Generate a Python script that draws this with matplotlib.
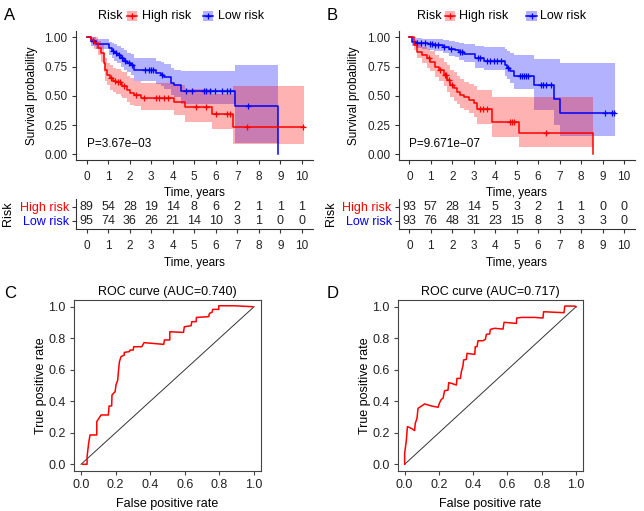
import numpy as np
import matplotlib
matplotlib.use("Agg")
import matplotlib.pyplot as plt
from matplotlib.patches import Rectangle
from matplotlib.lines import Line2D

plt.rcParams['font.family'] = ['Liberation Sans', 'DejaVu Sans']

# ---------------- data ----------------
years = list(range(0, 11))

# panel A  (step times, survival, lower/upper CI, last follow-up)
a_high_t = [0, 0.19, 0.34, 0.5, 0.65, 0.78, 0.85, 0.96, 1.09, 1.2, 1.35, 1.58, 1.66, 1.89, 2.02, 2.2, 2.51, 4.05, 4.55, 5.82, 6.82]
a_high_s = [1.0, 0.98, 0.95, 0.91, 0.865, 0.78, 0.72, 0.68, 0.65, 0.63, 0.615, 0.60, 0.58, 0.55, 0.525, 0.51, 0.485, 0.45, 0.405, 0.345, 0.23]
a_high_lo = [1.0, 0.95, 0.90, 0.85, 0.79, 0.70, 0.63, 0.59, 0.55, 0.53, 0.52, 0.50, 0.48, 0.45, 0.42, 0.41, 0.38, 0.34, 0.28, 0.22, 0.09]
a_high_hi = [1.0, 1.0, 1.0, 0.97, 0.94, 0.87, 0.82, 0.78, 0.76, 0.74, 0.73, 0.71, 0.70, 0.67, 0.65, 0.63, 0.61, 0.59, 0.56, 0.52, 0.58]
a_high_end = 10.1
a_high_cens = [1.15, 1.3, 1.45, 1.55, 1.75, 2.3, 2.67, 3.2, 3.36, 3.6, 3.8, 5.07, 5.53, 6.0, 6.54, 6.67, 7.47, 10.08]

a_low_t = [0, 0.19, 0.42, 1.04, 1.19, 1.27, 1.43, 1.58, 1.74, 1.89, 2.05, 2.2, 3.2, 3.44, 3.6, 3.9, 4.06, 4.4, 6.9, 8.9]
a_low_s = [1.0, 0.965, 0.94, 0.905, 0.88, 0.865, 0.845, 0.825, 0.80, 0.78, 0.765, 0.72, 0.695, 0.68, 0.658, 0.61, 0.59, 0.545, 0.41, 0.0]
a_low_lo = [1.0, 0.93, 0.90, 0.85, 0.82, 0.80, 0.78, 0.75, 0.72, 0.70, 0.68, 0.63, 0.60, 0.58, 0.56, 0.51, 0.49, 0.43, 0.10, 0.0]
a_low_hi = [1.0, 1.0, 0.99, 0.96, 0.95, 0.94, 0.93, 0.91, 0.89, 0.87, 0.86, 0.82, 0.80, 0.79, 0.77, 0.74, 0.72, 0.71, 0.76, 0.0]
a_low_end = 8.9
a_low_cens = [0.3, 1.2, 1.35, 1.5, 1.65, 1.8, 1.95, 2.1, 2.7, 2.9, 3.0, 3.1, 3.5, 4.6, 4.9, 5.46, 5.53, 5.72, 5.95, 6.3, 6.54, 6.67, 7.5]

# panel B
b_high_t = [0, 0.2, 0.36, 0.59, 0.82, 0.98, 1.21, 1.37, 1.6, 1.76, 1.91, 2.07, 2.22, 2.38, 2.54, 2.77, 3.0, 3.16, 3.83, 5.1, 8.58]
b_high_s = [1.0, 0.935, 0.877, 0.85, 0.82, 0.79, 0.75, 0.72, 0.68, 0.635, 0.593, 0.564, 0.536, 0.507, 0.487, 0.464, 0.436, 0.385, 0.275, 0.18, 0.0]
b_high_lo = [1.0, 0.89, 0.82, 0.78, 0.74, 0.71, 0.66, 0.63, 0.58, 0.53, 0.49, 0.46, 0.43, 0.40, 0.38, 0.35, 0.32, 0.26, 0.15, 0.065, 0.0]
b_high_hi = [1.0, 0.98, 0.94, 0.92, 0.90, 0.88, 0.85, 0.82, 0.79, 0.76, 0.72, 0.70, 0.67, 0.64, 0.62, 0.60, 0.58, 0.55, 0.49, 0.49, 0.0]
b_high_end = 8.58
b_high_cens = [0.9, 1.45, 1.65, 1.7, 1.85, 2.0, 3.3, 3.45, 3.6, 4.7, 4.78, 4.86, 6.38]

b_low_t = [0, 0.12, 0.3, 0.59, 0.85, 1.13, 1.55, 1.84, 2.15, 2.3, 2.53, 3.08, 3.47, 4.48, 4.56, 4.71, 4.87, 5.8, 6.75, 7.0]
b_low_s = [1.0, 0.963, 0.954, 0.949, 0.943, 0.934, 0.92, 0.897, 0.89, 0.877, 0.857, 0.82, 0.80, 0.764, 0.735, 0.71, 0.667, 0.593, 0.47, 0.355]
b_low_lo = [1.0, 0.93, 0.91, 0.90, 0.895, 0.88, 0.865, 0.84, 0.83, 0.81, 0.79, 0.74, 0.72, 0.67, 0.64, 0.61, 0.56, 0.38, 0.25, 0.16]
b_low_hi = [1.0, 1.0, 0.995, 0.99, 0.99, 0.985, 0.975, 0.965, 0.96, 0.955, 0.945, 0.93, 0.92, 0.90, 0.885, 0.866, 0.846, 0.817, 0.817, 0.78]
b_low_end = 9.6
b_low_cens = [0.35, 0.55, 0.75, 0.95, 1.05, 1.2, 1.35, 1.6, 1.95, 2.35, 2.45, 3.2, 3.3, 3.6, 3.75, 3.95, 4.1, 4.25, 4.6, 5.17, 5.26, 5.35, 5.44, 5.55, 6.13, 6.25, 6.38, 6.6, 9.1, 9.44, 9.52]

a_risk_high = [89, 54, 28, 19, 14, 8, 6, 2, 1, 1, 1]
a_risk_low = [95, 74, 36, 26, 21, 14, 10, 3, 1, 0, 0]
b_risk_high = [93, 57, 28, 14, 5, 3, 2, 1, 1, 0, 0]
b_risk_low = [93, 76, 48, 31, 23, 15, 8, 3, 3, 3, 0]

a_pval = "P=3.67e\u221203"
b_pval = "P=9.671e\u221207"

# ROC curves
c_fpr = [0.01, 0.035, 0.035, 0.044, 0.052, 0.091, 0.091, 0.116, 0.158, 0.162, 0.177, 0.179, 0.197, 0.202, 0.212, 0.216, 0.222, 0.231, 0.25, 0.25, 0.279, 0.283, 0.302, 0.304, 0.351, 0.364, 0.478, 0.482, 0.513, 0.513, 0.592, 0.597, 0.636, 0.640, 0.665, 0.667, 0.738, 0.742, 0.757, 0.761, 0.796, 0.796, 0.886, 0.992]
c_tpr = [0.0, 0.0, 0.049, 0.133, 0.186, 0.186, 0.271, 0.313, 0.313, 0.370, 0.370, 0.440, 0.461, 0.503, 0.535, 0.588, 0.651, 0.683, 0.693, 0.710, 0.715, 0.725, 0.725, 0.746, 0.746, 0.772, 0.761, 0.789, 0.789, 0.841, 0.837, 0.873, 0.879, 0.905, 0.905, 0.932, 0.937, 0.958, 0.964, 0.983, 0.983, 1.006, 1.006, 1.0]
c_auc = 0.740

d_fpr = [0.0, 0.0, 0.010, 0.016, 0.039, 0.058, 0.062, 0.072, 0.078, 0.093, 0.117, 0.156, 0.195, 0.204, 0.214, 0.224, 0.233, 0.253, 0.257, 0.272, 0.302, 0.305, 0.325, 0.331, 0.340, 0.344, 0.360, 0.364, 0.389, 0.409, 0.412, 0.422, 0.428, 0.457, 0.471, 0.477, 0.496, 0.500, 0.525, 0.574, 0.580, 0.652, 0.654, 0.681, 0.759, 0.807, 0.811, 0.930, 0.934, 0.992, 1.0]
d_tpr = [0.0, 0.070, 0.154, 0.239, 0.228, 0.214, 0.260, 0.292, 0.355, 0.366, 0.383, 0.370, 0.362, 0.391, 0.412, 0.419, 0.467, 0.471, 0.518, 0.514, 0.503, 0.545, 0.545, 0.588, 0.624, 0.662, 0.666, 0.704, 0.700, 0.698, 0.746, 0.746, 0.784, 0.784, 0.793, 0.825, 0.827, 0.856, 0.863, 0.858, 0.901, 0.894, 0.928, 0.932, 0.932, 0.928, 0.968, 0.962, 1.004, 1.004, 1.0]
d_auc = 0.717

RED = '#FF0000'
BLUE = '#0000FF'
TXT = '#222222'
FS = 8.5

fig = plt.figure(figsize=(6.44, 5.11), dpi=100)


def px_axes(l, t, r, b):
    return fig.add_axes([l / 644, 1 - b / 511, (r - l) / 644, (b - t) / 511])


def km_group(ax, t, s, lo, hi, end, cens, col):
    t = list(t) + [end]
    s = list(s) + [s[-1]]
    lo = list(lo) + [lo[-1]]
    hi = list(hi) + [hi[-1]]
    ax.fill_between(t, lo, hi, step='post', color=col, alpha=0.3, lw=0)
    ax.step(t, s, where='post', color=col, lw=1.1)
    idx = np.searchsorted(t, cens, side='right') - 1
    ax.plot(cens, np.array(s)[idx], ls='none', marker='+', ms=4.5, mew=0.9, color=col)


def style_gg(ax):
    for sp in ['top', 'right']:
        ax.spines[sp].set_visible(False)
    for sp in ['left', 'bottom']:
        ax.spines[sp].set_color('#333333')
        ax.spines[sp].set_linewidth(0.8)
    ax.tick_params(length=3, width=0.8, color='#333333', labelsize=FS, labelcolor=TXT, pad=5)
    ax.set_xlim(-0.5, 10.5)
    ax.set_xticks(years)


def km_panel(l, r, hi_data, lo_data, pval, risk_h, risk_l, letter, leg):
    ax = px_axes(l, 31.5, r, 160.2)
    km_group(ax, *lo_data, BLUE)
    km_group(ax, *hi_data, RED)
    style_gg(ax)
    ax.set_ylim(-0.05, 1.05)
    ax.set_yticks([0, 0.25, 0.5, 0.75, 1.0])
    ax.set_yticklabels(['0.00', '0.25', '0.50', '0.75', '1.00'])
    ax.tick_params(axis='y', pad=3)
    ax.set_xlabel('Time, years', fontsize=FS, labelpad=3)
    ax.set_ylabel('Survival probability', fontsize=FS, labelpad=5)
    ax.text(0.0, 0.09, pval, fontsize=FS, va='center', ha='left')

    tb = px_axes(l, 198.5, r, 229.3)
    style_gg(tb)
    tb.set_ylim(0.4, 2.6)
    tb.set_yticks([2, 1])
    tb.set_yticklabels(['High risk', 'Low risk'], fontsize=FS + 0.5)
    for lab, col in zip(tb.get_yticklabels(), [RED, BLUE]):
        lab.set_color(col)
    tb.tick_params(axis='y', pad=2)
    for yr, nh, nl in zip(years, risk_h, risk_l):
        tb.text(yr, 2, str(nh), ha='center', va='center', fontsize=FS + 0.5, color=TXT)
        tb.text(yr, 1, str(nl), ha='center', va='center', fontsize=FS + 0.5, color=TXT)
    tb.set_xlabel('Time, years', fontsize=FS, labelpad=3)
    tb.set_ylabel('Risk', fontsize=FS + 0.5, labelpad=4)

    # legend on top
    x_risk, k1, t1, k2, t2 = leg
    y = 1 - 16 / 511
    fig.text(x_risk / 644, y, 'Risk', fontsize=FS + 0.5, va='center', ha='left')
    for kx, tx, col, name in [(k1, t1, RED, 'High risk'), (k2, t2, BLUE, 'Low risk')]:
        fig.add_artist(Rectangle((kx / 644, 1 - 21 / 511), 10.5 / 644, 9.5 / 511,
                                 transform=fig.transFigure, color=col, alpha=0.3, lw=0))
        fig.add_artist(Line2D([kx / 644, (kx + 10.5) / 644], [y, y], transform=fig.transFigure, color=col, lw=1.1))
        fig.add_artist(Line2D([(kx + 5.25) / 644], [y], transform=fig.transFigure, color=col,
                              marker='+', ms=4.5, mew=0.9))
        fig.text(tx / 644, y, name, fontsize=FS + 0.5, va='center', ha='left')
    fig.text(letter[1] / 644, 1 - 15 / 511, letter[0], fontsize=12, va='center', ha='left')


km_panel(76, 312.5,
         (a_high_t, a_high_s, a_high_lo, a_high_hi, a_high_end, a_high_cens),
         (a_low_t, a_low_s, a_low_lo, a_low_hi, a_low_end, a_low_cens),
         a_pval, a_risk_high, a_risk_low, ('A', 4), (98.3, 126.7, 141.7, 202.7, 218.3))
km_panel(398.6, 634.7,
         (b_high_t, b_high_s, b_high_lo, b_high_hi, b_high_end, b_high_cens),
         (b_low_t, b_low_s, b_low_lo, b_low_hi, b_low_end, b_low_cens),
         b_pval, b_risk_high, b_risk_low, ('B', 327), (417, 444.7, 458.7, 526.3, 540.3))


def roc_panel(l, r, fpr, tpr, auc, letter, lx):
    ax = px_axes(l, 300.4, r, 470.6)
    ax.plot([0, 1], [0, 1], color='#333333', lw=0.7)
    ax.plot(fpr, tpr, color=RED, lw=1.1)
    ax.set_xlim(-0.04, 1.04)
    ax.set_ylim(-0.04, 1.04)
    ticks = [0.0, 0.2, 0.4, 0.6, 0.8, 1.0]
    ax.set_xticks(ticks)
    ax.set_yticks(ticks)
    for sp in ax.spines.values():
        sp.set_color('#444444')
        sp.set_linewidth(0.8)
    ax.tick_params(length=3, width=0.8, color='#444444', labelsize=FS + 0.5, labelcolor=TXT, pad=3)
    ax.set_xlabel('False positive rate', fontsize=FS + 0.5, labelpad=5)
    ax.set_ylabel('True positive rate', fontsize=FS + 0.5, labelpad=1)
    ax.set_title('ROC curve (AUC=%.3f)' % auc, fontsize=FS + 0.5, pad=4)
    fig.text(lx / 644, 1 - 293 / 511, letter, fontsize=12, va='center', ha='left')


roc_panel(74.1, 261, c_fpr, c_tpr, c_auc, 'C', 4)
roc_panel(397.8, 582.9, d_fpr, d_tpr, d_auc, 'D', 327)

fig.savefig('out.png', dpi=100)
